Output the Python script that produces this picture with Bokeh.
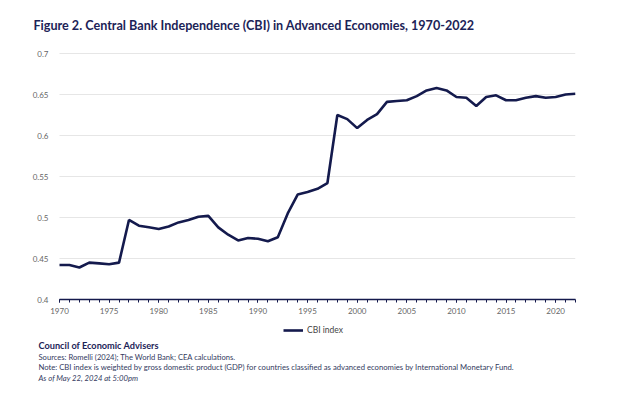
from bokeh.plotting import figure
from bokeh.layouts import column
from bokeh.models import (Range1d, FixedTicker, NumeralTickFormatter, Label, Legend, LegendItem)
from bokeh.embed import file_html
from bokeh.resources import INLINE

years = list(range(1970, 2023))
cbi = [0.442, 0.442, 0.439, 0.445, 0.444, 0.443, 0.445, 0.497, 0.490, 0.488,
       0.486, 0.489, 0.494, 0.497, 0.501, 0.502, 0.488, 0.479, 0.472, 0.475,
       0.474, 0.471, 0.476, 0.505, 0.528, 0.531, 0.535, 0.542, 0.625, 0.620,
       0.609, 0.619, 0.626, 0.641, 0.642, 0.643, 0.648, 0.655, 0.658, 0.655,
       0.647, 0.646, 0.636, 0.647, 0.649, 0.643, 0.643, 0.646, 0.648, 0.646,
       0.647, 0.650, 0.651]
y_ticks = [0.4, 0.45, 0.5, 0.55, 0.6, 0.65, 0.7]
x_ticks = [1970, 1975, 1980, 1985, 1990, 1995, 2000, 2005, 2010, 2015, 2020]
series_name = "CBI index"
title_text = "Figure 2. Central Bank Independence (CBI) in Advanced Economies, 1970-2022"
org_text = "Council of Economic Advisers"
footer_lines = [
    "Sources: Romelli (2024); The World Bank; CEA calculations.",
    "Note: CBI index is weighted by gross domestic product (GDP) for countries classified as advanced economies by International Monetary Fund.",
    "As of May 22, 2024 at 5:00pm",
]

NAVY = "#141a4d"
TITLE_NAVY = "#1c2357"
NOTE_COLOR = "#333a5e"
FONT = "Lato"
W = 616

# layout geometry (pixels)
FRAME_L, FRAME_R = 30, 575          # frame edges (shared by both figures)
X0_PX = 59                          # where the first year sits
Y_TOP_PX, Y_BOT_PX = 53, 299        # where the y-range ends sit
YLAB_RIGHT = 48                     # right edge of the y tick labels
MAIN_H = 321
FOOT_H = 65

x0, x1 = years[0], years[-1]
ppx = (FRAME_R - X0_PX) / (x1 - x0)
ylo, yhi = y_ticks[0], y_ticks[-1]
ppy = (Y_BOT_PX - Y_TOP_PX) / (yhi - ylo)

p = figure(width=W, height=MAIN_H, output_backend="svg", toolbar_location=None,
           x_range=Range1d(x0 - (X0_PX - FRAME_L) / ppx, x1),
           y_range=Range1d(ylo, yhi + Y_TOP_PX / ppy),
           min_border_left=FRAME_L, min_border_right=W - FRAME_R,
           min_border_top=0, min_border_bottom=MAIN_H - Y_BOT_PX)
p.outline_line_color = None
p.background_fill_color = "white"
p.border_fill_color = "white"
p.xgrid.visible = False
p.ygrid.visible = False

# horizontal gridlines at the y ticks, spanning the data years
p.segment(x0=[x0] * len(y_ticks), x1=[x1] * len(y_ticks), y0=y_ticks, y1=y_ticks,
          line_color="#e6e6e6", line_width=1.2)

p.line(years, cbi, line_color=NAVY, line_width=2.6)

p.yaxis.ticker = FixedTicker(ticks=y_ticks)
p.yaxis.formatter = NumeralTickFormatter(format="0.[00]")
p.yaxis.axis_line_color = None
p.yaxis.major_tick_line_color = None
p.yaxis.minor_tick_line_color = None
p.yaxis.major_tick_in = 0
p.yaxis.major_tick_out = 0
p.yaxis.minor_tick_in = 0
p.yaxis.minor_tick_out = 0
p.yaxis.major_label_text_font = FONT
p.yaxis.major_label_text_font_size = "8px"
p.yaxis.major_label_text_color = "#666666"
p.yaxis.major_label_standoff = FRAME_L - YLAB_RIGHT   # labels sit just left of 1970

p.xaxis.bounds = (x0, x1)
p.xaxis.ticker = FixedTicker(ticks=x_ticks, minor_ticks=years)
p.xaxis.axis_line_color = NAVY
p.xaxis.axis_line_width = 1.5
p.xaxis.major_tick_line_color = NAVY
p.xaxis.minor_tick_line_color = NAVY
p.xaxis.major_tick_in = 0
p.xaxis.major_tick_out = 3
p.xaxis.minor_tick_in = 0
p.xaxis.minor_tick_out = 3
p.xaxis.major_label_text_font = FONT
p.xaxis.major_label_text_font_size = "8px"
p.xaxis.major_label_text_color = "#666666"
p.xaxis.major_label_standoff = 5

# chart title inside the (tall) frame, above the plotting area
p.add_layout(Label(x=x0 - (X0_PX - 33) / ppx, y=yhi + (Y_TOP_PX - 25) / ppy,
                   text=title_text, text_font=FONT, text_font_size="12.6px",
                   text_font_style="bold", text_color=TITLE_NAVY,
                   text_baseline="middle", text_align="left"))

# ---- footer (legend + notes) ----
foot = figure(width=W, height=FOOT_H, output_backend="svg", toolbar_location=None,
              x_range=Range1d(FRAME_L, FRAME_R), y_range=Range1d(0, FOOT_H),
              x_axis_type=None, y_axis_type=None,
              min_border_left=0, min_border_right=0, min_border_top=0,
              min_border_bottom=0)
foot.outline_line_color = None
foot.xgrid.visible = False
foot.ygrid.visible = False
foot.background_fill_color = "white"
foot.border_fill_color = "white"

proxy = foot.line(years, cbi, line_color=NAVY, line_width=2.6, visible=False)
legend = Legend(items=[LegendItem(label=series_name, renderers=[proxy])],
                location=(283 - FRAME_L, 51), orientation="horizontal",
                padding=0, margin=0, spacing=0,
                glyph_width=20, glyph_height=10, label_height=10,
                label_standoff=4, border_line_color=None,
                background_fill_alpha=0,
                label_text_font=FONT, label_text_font_size="8.5px",
                label_text_color="#444444")
foot.add_layout(legend, "center")

FOOT_TOP = MAIN_H


def add_text(txt, page_y, size, color, style="normal"):
    foot.add_layout(Label(x=38, y=FOOT_H - (page_y - FOOT_TOP), text=txt,
                          text_font=FONT, text_font_size=size, text_color=color,
                          text_font_style=style, text_baseline="middle",
                          text_align="left"))


add_text(org_text, 345, "9.2px", TITLE_NAVY, "bold")
add_text(footer_lines[0], 356.5, "7.6px", NOTE_COLOR)
add_text(footer_lines[1], 366.5, "7.7px", NOTE_COLOR)
add_text(footer_lines[2], 377, "7.7px", NOTE_COLOR, "italic")

layout = column(p, foot, spacing=0)
open("out.html", "w").write(file_html(layout, INLINE))
